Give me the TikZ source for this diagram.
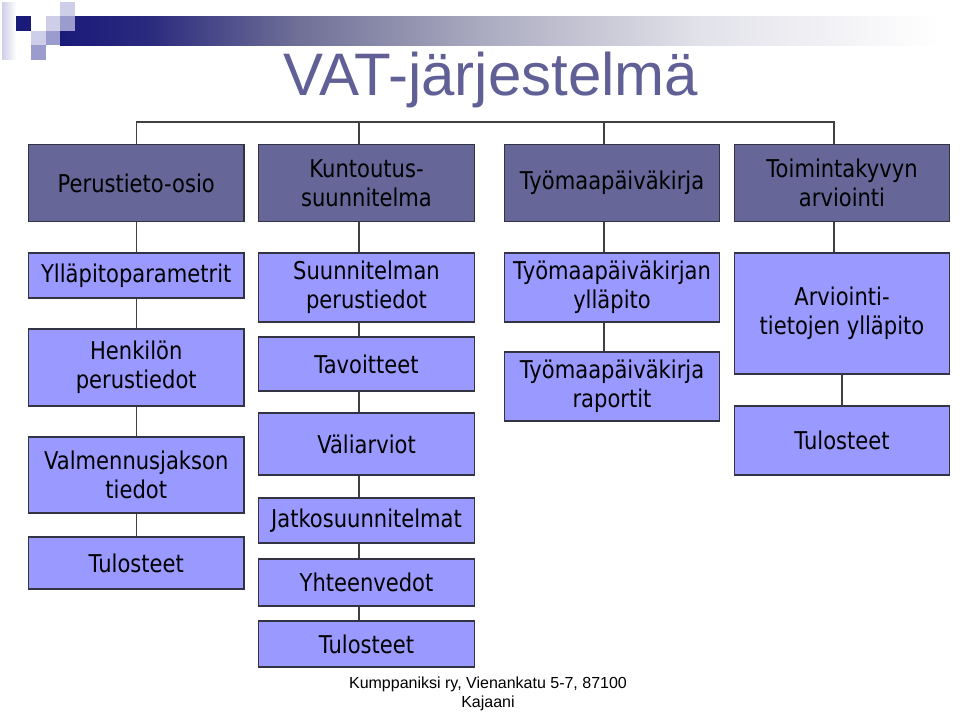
\documentclass[tikz,border=0pt]{standalone}
\usepackage{fontspec}
\setmainfont{DejaVu Sans}
\newfontfamily\boxfont[FakeStretch=0.86]{DejaVu Sans}
\newfontfamily\arialfont{Liberation Sans}
\definecolor{topfill}{RGB}{102,102,153}
\definecolor{subfill}{RGB}{153,153,255}
\definecolor{boxline}{RGB}{51,51,68}
\definecolor{titlecol}{RGB}{96,96,150}
\definecolor{navy}{RGB}{26,26,122}
\definecolor{bardark}{RGB}{42,42,126}
\definecolor{barslate}{RGB}{112,112,152}
\definecolor{barmid}{RGB}{176,176,196}
\definecolor{barlight}{RGB}{226,226,234}
\definecolor{lav}{RGB}{206,206,232}
\definecolor{midlav}{RGB}{155,155,205}
\pgfdeclarehorizontalshading{barfade}{100bp}{color(0bp)=(navy); color(25bp)=(navy); color(30bp)=(bardark); color(38.6bp)=(barslate); color(50bp)=(barmid); color(61.4bp)=(barlight); color(75bp)=(white); color(100bp)=(white)}
\tikzset{
  box/.style={draw=boxline,line width=1.4pt,minimum width=215.5pt,align=center,inner sep=0pt,font=\boxfont\fontsize{24.5}{29}\selectfont},
  topbox/.style={box,fill=topfill,minimum height=76.5pt},
  subbox/.style={box,fill=subfill},
  link/.style={draw=black!75,line width=1.2pt}
}

\begin{document}
\begin{tikzpicture}[x=1pt,y=-1pt]
\useasboundingbox (0,0) rectangle (960,712);
% corner squares and bar
\shade[left color=lav,right color=white] (2,2) rectangle (16,59);
\shade[shading=barfade] (60,16) rectangle (940,45);
\fill[navy] (16,16) rectangle (31,31);
\fill[lav] (46,16) rectangle (60,31);
\fill[lav] (60,2) rectangle (75,16);
\fill[midlav] (60,16) rectangle (75,31);
\fill[lav] (31,31) rectangle (46,45);
\fill[midlav] (46,31) rectangle (60,45);
\fill[midlav] (31,45) rectangle (46,60);
\node[font=\arialfont\fontsize{60}{72}\selectfont,text=titlecol,anchor=base,inner sep=0pt] (title) at (491,95) {VAT-järjestelmä};
% main row
\node[topbox] (perus) at (136.25,183) {Perustieto-osio};
\node[topbox] (kunt) at (366.5,183) {Kuntoutus-\\suunnitelma};
\node[topbox] (tyom) at (612,183) {Työmaapäiväkirja};
\node[topbox] (toim) at (842,183) {Toimintakyvyn\\arviointi};
% sub boxes
\foreach \n/\x/\y/\h/\t in {c1a/136.25/275.5/45/{Ylläpitoparametrit},c1b/136.25/367.5/77/{Henkilön\\perustiedot},c1c/136.25/475/76/{Valmennusjakson\\tiedot},c1d/136.25/563/52/{Tulosteet},
  c2a/366.5/287.5/69/{Suunnitelman\\perustiedot},c2b/366.5/364/54/{Tavoitteet},c2c/366.5/444/62/{Väliarviot},c2d/366.5/520.5/45/{Jatkosuunnitelmat},c2e/366.5/582.5/47/{Yhteenvedot},c2f/366.5/644/46/{Tulosteet},
  c3a/612/287.5/69/{Työmaapäiväkirjan\\ylläpito},c3b/612/386.5/69/{Työmaapäiväkirja\\raportit},
  c4a/842/313.5/121/{Arviointi-\\tietojen ylläpito},c4b/842/440.5/69/{Tulosteet}}{
 \node[subbox,minimum height=\h pt] (\n) at (\x,\y) {\t};
}
% links
\coordinate (bus) at (0,122);
\draw[link] (perus.north) |- ([xshift=-8pt]toim.north |- bus) -- ([xshift=-8pt]toim.north);
\draw[link] ([xshift=-7.5pt]kunt.north) -- ([xshift=-7.5pt]kunt.north |- bus);
\draw[link] ([xshift=-8pt]tyom.north) -- ([xshift=-8pt]tyom.north |- bus);
\foreach \a/\b in {perus/c1a,c1a/c1b,c1b/c1c,c1c/c1d}
 \draw[link] (\a) -- (\b);
\foreach \a/\b in {kunt/c2a,c2a/c2b,c2b/c2c,c2c/c2d,c2d/c2e,c2e/c2f}
 \draw[link] ([xshift=-7.5pt]\a.south) -- ([xshift=-7.5pt]\b.north);
\foreach \a/\b in {tyom/c3a,c3a/c3b,toim/c4a}
 \draw[link] ([xshift=-8pt]\a.south) -- ([xshift=-8pt]\b.north);
\draw[link] (c4a) -- (c4b);
\node[font=\arialfont\fontsize{16}{19}\selectfont,anchor=base,inner sep=0pt] (addr) at (488,688) {Kumppaniksi ry, Vienankatu 5-7, 87100};
\node[font=\arialfont\fontsize{16}{19}\selectfont,anchor=base,inner sep=0pt] (town) at (488,707) {Kajaani};
\end{tikzpicture}
\end{document}
